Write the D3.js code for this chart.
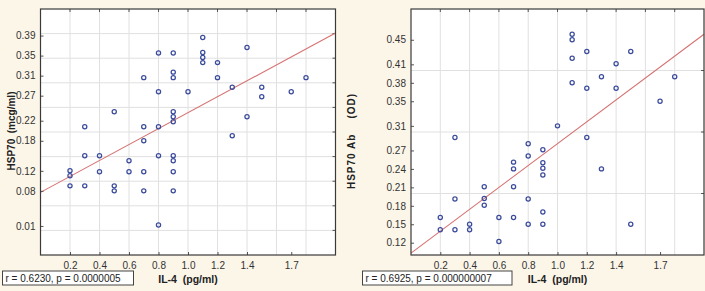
<!DOCTYPE html>
<html>
<head>
<meta charset="utf-8">
<script src="https://cdn.jsdelivr.net/npm/d3@7/dist/d3.min.js"></script>
<style>
  html, body { margin: 0; padding: 0; background: #fcf6e9; }
  svg { display: block; font-family: "Liberation Sans", Arial, sans-serif; }
  text { white-space: pre; }
</style>
</head>
<body>
<div id="chart"></div>
<script>
// IL-4 values shared by both panels' x axis
const xTickLabels = [0.2, 0.4, 0.6, 0.8, 1.0, 1.2, 1.4, 1.7];
const xGrid = [0.2, 0.4, 0.6, 0.8, 1.0, 1.2, 1.4, 1.6, 1.8];

// left panel: HSP70 (mcg/ml)
const hspX = [0.2, 0.2, 0.2, 0.3, 0.3, 0.3, 0.4, 0.4, 0.5, 0.5, 0.5, 0.6, 0.6,
  0.7, 0.7, 0.7, 0.7, 0.7, 0.8, 0.8, 0.8, 0.8, 0.8,
  0.9, 0.9, 0.9, 0.9, 0.9, 0.9, 0.9, 0.9, 0.9, 0.9,
  1.0, 1.1, 1.1, 1.1, 1.1, 1.2, 1.2, 1.3, 1.3, 1.4, 1.4, 1.5, 1.5, 1.7, 1.8];
const hspY = [0.120, 0.110, 0.090, 0.208, 0.150, 0.090, 0.150, 0.118, 0.238, 0.090, 0.080, 0.140, 0.118,
  0.306, 0.208, 0.180, 0.118, 0.080, 0.355, 0.278, 0.208, 0.150, 0.012,
  0.355, 0.317, 0.306, 0.238, 0.228, 0.218, 0.150, 0.140, 0.118, 0.080,
  0.278, 0.386, 0.356, 0.346, 0.336, 0.336, 0.306, 0.287, 0.190, 0.366, 0.228, 0.287, 0.268, 0.278, 0.306];
const hspTicks = [0.39, 0.35, 0.31, 0.27, 0.22, 0.18, 0.12, 0.08, 0.01];
const hspFitX = [0, 2];
const hspFitY = [0.077, 0.395];

// right panel: HSP70 Ab (OD)
const abX = [0.2, 0.2, 0.3, 0.3, 0.3, 0.4, 0.4, 0.5, 0.5, 0.5, 0.6, 0.6,
  0.7, 0.7, 0.7, 0.7, 0.8, 0.8, 0.8, 0.8,
  0.9, 0.9, 0.9, 0.9, 0.9, 0.9, 1.0, 1.1, 1.1, 1.1, 1.1,
  1.2, 1.2, 1.2, 1.3, 1.3, 1.4, 1.4, 1.5, 1.5, 1.7, 1.8];
const abY = [0.161, 0.141, 0.291, 0.191, 0.141, 0.150, 0.141, 0.211, 0.192, 0.181, 0.161, 0.122,
  0.251, 0.240, 0.211, 0.161, 0.281, 0.261, 0.191, 0.150,
  0.271, 0.250, 0.241, 0.230, 0.170, 0.150, 0.310, 0.459, 0.450, 0.420, 0.380,
  0.431, 0.371, 0.291, 0.390, 0.240, 0.411, 0.371, 0.431, 0.150, 0.350, 0.390];
const abTicks = [0.45, 0.41, 0.38, 0.35, 0.31, 0.27, 0.24, 0.21, 0.18, 0.15, 0.12];
const abGrid = [0.2, 0.3, 0.4];
const abFitX = [0, 2];
const abFitY = [0.103, 0.459];

const width = 705, height = 291;
const svg = d3.select('#chart').append('svg').attr('width', width).attr('height', height);

function drawPanel(opts) {
  const { left, right, top, bottom, yDomain, xs, ys, yTicks, yGrid, fitX, fitY,
    yTitle, yTitleX, yTitleY, yTitleSpacing, stats, boxX, boxW } = opts;
  const x = d3.scaleLinear().domain([0, 2]).range([left, right]);
  const y = d3.scaleLinear().domain(yDomain).range([bottom, top]);
  const g = svg.append('g');

  g.append('rect').attr('x', left).attr('y', top).attr('width', right - left).attr('height', bottom - top)
    .attr('fill', '#ffffff');

  g.append('g').selectAll('line').data(xGrid).enter().append('line')
    .attr('x1', d => x(d)).attr('x2', d => x(d)).attr('y1', top).attr('y2', bottom)
    .attr('stroke', '#e0e0e0').attr('stroke-width', 1);
  g.append('g').selectAll('line').data(yGrid).enter().append('line')
    .attr('x1', left).attr('x2', right).attr('y1', d => y(d)).attr('y2', d => y(d))
    .attr('stroke', '#e0e0e0').attr('stroke-width', 1);

  // small ticks on top / right edges at gridlines
  g.append('g').selectAll('line').data(xGrid).enter().append('line')
    .attr('x1', d => x(d)).attr('x2', d => x(d)).attr('y1', top).attr('y2', top + 3)
    .attr('stroke', '#555');
  g.append('g').selectAll('line').data(yGrid).enter().append('line')
    .attr('x1', right - 3).attr('x2', right).attr('y1', d => y(d)).attr('y2', d => y(d))
    .attr('stroke', '#555');

  const line = d3.line().x(d => x(d[0])).y(d => y(d[1]));
  g.append('path').datum(d3.zip(fitX, fitY)).attr('d', line)
    .attr('fill', 'none').attr('stroke', '#d67272').attr('stroke-width', 1.1);

  g.append('g').selectAll('circle').data(d3.zip(xs, ys)).enter().append('circle')
    .attr('cx', d => x(d[0])).attr('cy', d => y(d[1])).attr('r', 2.1)
    .attr('fill', 'none').attr('stroke', '#3b4b9c').attr('stroke-width', 1.25);

  const xAxis = d3.axisBottom(x).tickValues(xTickLabels).tickSize(-3).tickPadding(7)
    .tickFormat(d3.format('.1f'));
  const xa = g.append('g').attr('transform', `translate(0,${bottom})`).call(xAxis);
  const yAxis = d3.axisLeft(y).tickValues(yTicks).tickSize(-3).tickPadding(5)
    .tickFormat(d3.format('.2f'));
  const ya = g.append('g').attr('transform', `translate(${left},0)`).call(yAxis);
  [xa, ya].forEach(a => {
    a.select('.domain').remove();
    a.selectAll('.tick line').attr('stroke', '#555');
    a.selectAll('.tick text').attr('fill', '#333').style('font-size', '10px');
  });
  xa.selectAll('.tick text').style('font-family', '"Liberation Sans", Arial, sans-serif');
  ya.selectAll('.tick text').style('font-family', '"Liberation Sans Narrow", "Liberation Sans", Arial, sans-serif');

  g.append('rect').attr('x', left).attr('y', top).attr('width', right - left).attr('height', bottom - top)
    .attr('fill', 'none').attr('stroke', '#3a3a3a').attr('stroke-width', 1.2);

  g.append('text').attr('transform', `translate(${yTitleX},${yTitleY}) rotate(-90)`)
    .attr('text-anchor', 'middle').style('font-size', '10px').style('font-weight', 'bold')
    .style('letter-spacing', yTitleSpacing + 'px')
    .attr('fill', '#222').text(yTitle);

  g.append('text').attr('x', (left + right) / 2).attr('y', 283).attr('text-anchor', 'middle')
    .style('font-size', '10.5px').style('font-weight', 'bold').attr('fill', '#222').text('IL-4  (pg/ml)');

  g.append('rect').attr('x', boxX).attr('y', 271).attr('width', boxW).attr('height', 14)
    .attr('fill', '#ffffff').attr('stroke', '#444').attr('stroke-width', 1);
  g.append('text').attr('x', boxX + 3).attr('y', 281.5).style('font-size', '10px').attr('fill', '#222')
    .text(stats);
}

drawPanel({
  left: 40.5, right: 335.5, top: 9, bottom: 255,
  yDomain: [-0.048, 0.443], xs: hspX, ys: hspY, yTicks: hspTicks,
  yGrid: d3.range(1, 10).map(i => -0.048 + i * 0.0491),
  fitX: hspFitX, fitY: hspFitY, yTitle: 'HSP70  (mcg/ml)', yTitleX: 15, yTitleY: 131, yTitleSpacing: 0,
  stats: 'r = 0.6230, p = 0.0000005', boxX: 2.5, boxW: 131
});

drawPanel({
  left: 411, right: 704, top: 9, bottom: 255,
  yDomain: [0.1, 0.5], xs: abX, ys: abY, yTicks: abTicks, yGrid: abGrid,
  fitX: abFitX, fitY: abFitY, yTitle: 'HSP70 Ab    (OD)', yTitleX: 355, yTitleY: 141, yTitleSpacing: 1,
  stats: 'r = 0.6925, p = 0.000000007', boxX: 362.5, boxW: 149.5
});
</script>
</body>
</html>
